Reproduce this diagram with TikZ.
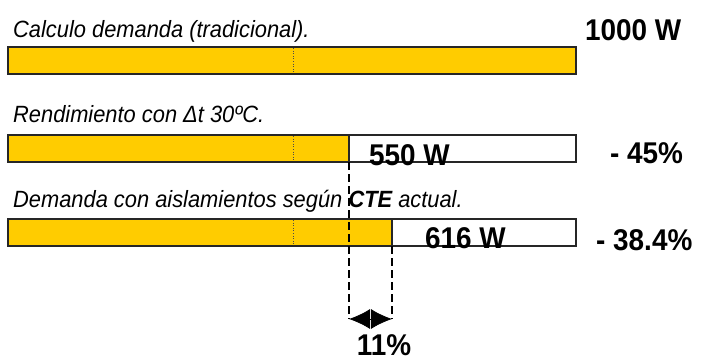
\documentclass[tikz,border=0pt]{standalone}
\usepackage{fontspec}
\setmainfont{Liberation Sans}[FakeStretch=0.93]
\usetikzlibrary{arrows.meta}
\definecolor{barYellow}{RGB}{255,204,0}

\begin{document}
\begin{tikzpicture}[x=1pt, y=-1pt,
		barbox/.style={line width=1.5pt, draw=black!85},
		barfill/.style={fill=barYellow},
		midline/.style={dotted, line width=0.6pt, draw=black!70},
		lbl/.style={font=\fontsize{23.5}{27}\selectfont\itshape, inner sep=0pt, anchor=base west},
		val/.style={font=\fontsize{30}{34}\selectfont\bfseries, inner sep=0pt, anchor=base west},
		cut/.style={dashed, dash pattern=on 8pt off 4pt, line width=1.3pt}]
			%%%%% START %%%%%
			
			\useasboundingbox (0,0) rectangle (702,356);
			
			% bar 1
			\node[lbl] (t1) at (13,37) {Calculo demanda (tradicional).};
			\draw[barbox, barfill] (8,47) rectangle (576,74);
			\draw[midline] (293,48) -- (293,73);
			\node[val] (v1) at (585,40) {1000 W};
			
			% bar 2
			\node[lbl] (t2) at (13,122) {Rendimiento con Δt 30ºC.};
			\draw[barbox, fill=white] (8,135) rectangle (576,162);
			\draw[barbox, barfill] (8,135) rectangle (349,162);
			\draw[midline] (293,136) -- (293,161);
			\coordinate (e2) at (349,162);
			\node[val] (v2) at (369,165) {550 W};
			\node[val] (p2) at (610,163) {- 45\%};
			
			% bar 3
			\node[lbl] (t3) at (13,207) {Demanda con aislamientos según \textbf{CTE} actual.};
			\draw[barbox, fill=white] (8,219) rectangle (576,246);
			\draw[barbox, barfill] (8,219) rectangle (392,246);
			\draw[midline] (293,220) -- (293,245);
			\coordinate (e3) at (392,246);
			\node[val] (v3) at (425,248) {616 W};
			\node[val] (p3) at (596,250) {- 38.4\%};
			
			% difference
			\coordinate (a1) at (349,319);
			\coordinate (a2) at (392,319);
			\draw[cut] (e2) -- (a1);
			\draw[cut] (e3) -- (a2);
			\draw[line width=0.8pt, {Latex[length=21pt,width=20pt]}-{Latex[length=21pt,width=20pt]}] (a1) -- (a2);
			\node[val, anchor=base] (d) at (384,355) {11\%};
			
			%%%%% END %%%%%
		\end{tikzpicture}
\end{document}
